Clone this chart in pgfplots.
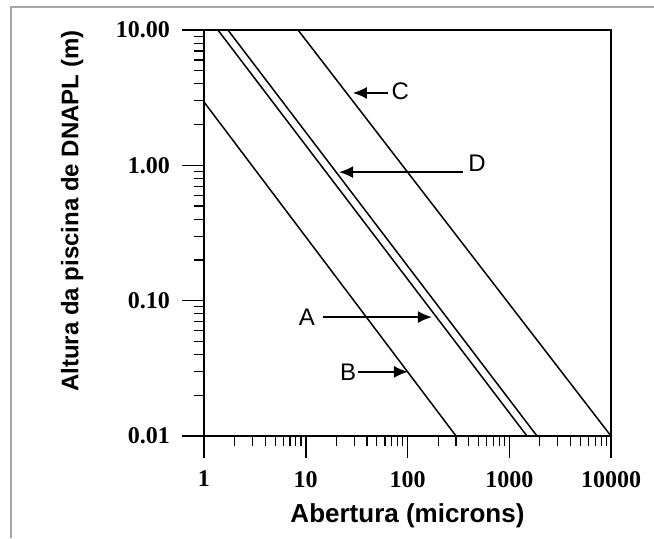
\documentclass[border=0pt]{standalone}
\usepackage{fontspec}
\setmainfont{Liberation Sans}
\newfontfamily\tickfont{Liberation Serif}
\usepackage{pgfplots}
\pgfplotsset{compat=1.18}
\usetikzlibrary{arrows.meta}

\begin{document}
\begin{tikzpicture}
% page = 654x538 px, 1 px = 0.5pt
\path[use as bounding box] (0,0) rectangle (327pt,269pt);
\draw[black!35, line width=0.8pt] (5.5pt,0) -- (5.5pt,265.5pt) -- (327pt,265.5pt);
\begin{axis}[
    at={(102pt,51pt)}, anchor=south west,
    width=203.5pt, height=203pt, scale only axis,
    xmode=log, ymode=log,
    xmin=1, xmax=10000, ymin=0.01, ymax=10,
    xtick={1,10,100,1000,10000},
    xticklabels={1,10,100,1000,10000},
    ytick={0.01,0.1,1,10},
    yticklabels={0.01,0.10,1.00,10.00},
    tick align=outside,
    xtick pos=bottom, ytick pos=left,
    major tick length=11pt, minor tick length=5pt,
    ticklabel style={font=\tickfont\bfseries\fontsize{12}{12}\selectfont},
    xticklabel shift=3pt, yticklabel shift=2.5pt,
    axis line style={line width=0.75pt},
    every tick/.append style={black, line width=0.6pt},
    every major tick/.append style={line width=0.75pt},
    xlabel={Abertura (microns)},
    ylabel={Altura da piscina de DNAPL (m)},
    xlabel style={font=\bfseries\fontsize{13}{13}\selectfont,
        at={(axis description cs:0.5,-0.197)}, anchor=center},
    ylabel style={font=\bfseries\fontsize{12}{12}\selectfont,
        at={(axis description cs:-0.324,0.554)}, anchor=center},
]
% B
\addplot[black, line width=0.75pt] coordinates {(1,2.94) (300,0.01)};
% A
\addplot[black, line width=0.75pt] coordinates {(1.37,10) (1494,0.01)};
% D
\addplot[black, line width=0.75pt] coordinates {(1.72,10) (1875,0.01)};
% C
\addplot[black, line width=0.75pt] coordinates {(8.4,10) (10000,0.01)};

\tikzset{lab/.style={font=\fontsize{12}{12}\selectfont},
         arr/.style={-{Latex[length=7pt,width=6pt]}, line width=0.75pt}}
\draw[arr] (rel axis cs:0.452,0.845) -- (rel axis cs:0.366,0.845);
\node[lab] at (rel axis cs:0.482,0.848) {C};
\draw[arr] (rel axis cs:0.636,0.650) -- (rel axis cs:0.332,0.650);
\node[lab] at (rel axis cs:0.671,0.672) {D};
\draw[arr] (rel axis cs:0.292,0.293) -- (rel axis cs:0.560,0.293);
\node[lab] at (rel axis cs:0.253,0.293) {A};
\draw[arr] (rel axis cs:0.378,0.158) -- (rel axis cs:0.501,0.158);
\node[lab] at (rel axis cs:0.354,0.158) {B};
\end{axis}
\end{tikzpicture}
\end{document}
